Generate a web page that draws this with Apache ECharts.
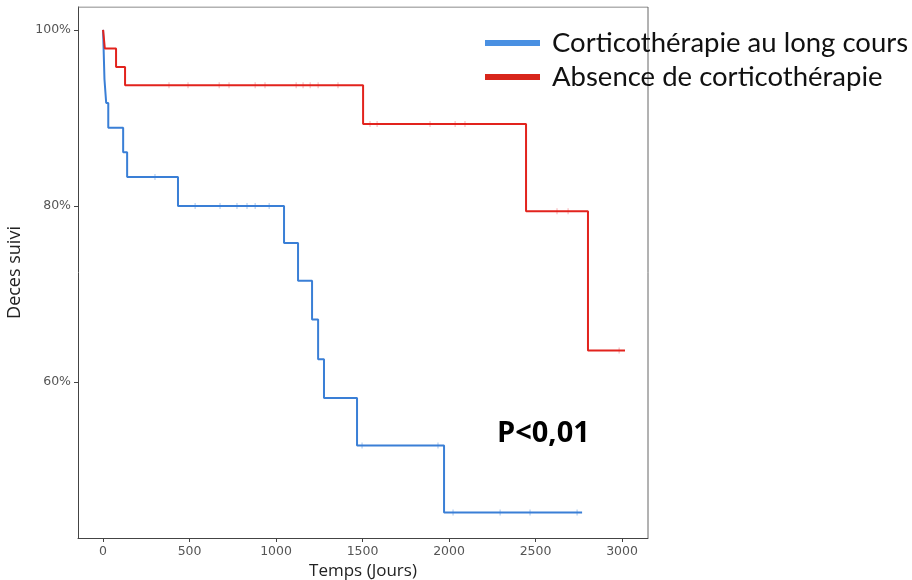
<!DOCTYPE html>
<html>
<head>
<meta charset="utf-8">
<script src="https://cdn.jsdelivr.net/npm/echarts@6/dist/echarts.min.js"></script>
<style>
  html, body { margin: 0; padding: 0; background: #fff; }
  #chart { width: 912px; height: 580px; }
</style>
</head>
<body>
<div id="chart"></div>
<script>
// courbes de Kaplan-Meier : [temps (jours), survie %]
const seriesNames = ['Corticothérapie au long cours', 'Absence de corticothérapie']
const corticoCurve = [
  [0, 100], [8, 94.4], [18, 91.7], [30, 88.9], [116, 86.1], [139, 83.3],
  [433, 80.0], [1046, 75.8], [1127, 71.5], [1208, 67.1], [1243, 62.6],
  [1277, 58.2], [1468, 52.8], [1971, 45.2], [2769, 45.2]
]
const absenceCurve = [
  [0, 100], [10, 97.9], [75, 95.8], [127, 93.7], [1503, 89.3],
  [2445, 79.4], [2803, 63.6], [3017, 63.6]
]
// temps des censures (petites marques verticales)
const corticoCensors = [300, 532, 676, 774, 832, 879, 960, 1497, 1936, 2023, 2295, 2468, 2740]
const absenceCensors = [381, 491, 671, 728, 879, 936, 1116, 1156, 1197, 1243, 1358,
  1543, 1584, 1890, 2035, 2092, 2624, 2688, 2983]
const xTicks = [0, 500, 1000, 1500, 2000, 2500, 3000]
const yTicks = [60, 80, 100]

const survivalAt = (curve, t) => {
  let v = curve[0][1]
  curve.forEach(p => { if (p[0] <= t) v = p[1] })
  return v
}

const blue = '#3a7fd6'
const red = '#e2231d'
const tickFont = { fontFamily: 'DejaVu Sans', fontSize: 12.5, color: '#555' }

const chart = echarts.init(document.getElementById('chart'))
chart.setOption({
  animation: false,
  grid: { left: 78, right: 264, top: 7, bottom: 42, outerBoundsMode: 'none' },
  legend: {
    orient: 'vertical',
    left: 480,
    top: 24,
    itemWidth: 55,
    itemHeight: 6,
    itemGap: 6,
    icon: 'rect',
    data: [
      { name: seriesNames[0], itemStyle: { color: '#4a90e2' } },
      { name: seriesNames[1], itemStyle: { color: '#d8261b' } }
    ],
    textStyle: { fontFamily: 'Lato', fontSize: 27.5, color: '#111', padding: [0, 0, 0, 7] }
  },
  xAxis: {
    type: 'value',
    min: -145,
    max: 3150,
    name: 'Temps (Jours)',
    nameLocation: 'middle',
    nameGap: 23,
    nameTextStyle: { fontFamily: 'Open Sans', fontSize: 17, color: '#222' },
    axisLine: { onZero: false, lineStyle: { color: '#444', width: 1 } },
    axisTick: { customValues: xTicks, length: 4, lineStyle: { color: '#444' } },
    axisLabel: { customValues: xTicks, margin: 7, formatter: v => String(v), ...tickFont },
    splitLine: { show: false }
  },
  yAxis: {
    type: 'value',
    min: 42.3,
    max: 102.6,
    name: 'Deces suivi',
    nameLocation: 'middle',
    nameGap: 48,
    nameTextStyle: { fontFamily: 'Open Sans', fontSize: 18, color: '#222' },
    axisLine: { show: true, onZero: false, lineStyle: { color: '#444', width: 1 } },
    axisTick: { show: true, customValues: yTicks, length: 4, lineStyle: { color: '#444' } },
    axisLabel: { customValues: yTicks, margin: 7, formatter: v => v + '%', ...tickFont },
    splitLine: { show: false }
  },
  series: [
    {
      name: seriesNames[0],
      type: 'line',
      step: 'end',
      data: corticoCurve,
      showSymbol: false,
      lineStyle: { color: blue, width: 2 },
      itemStyle: { color: '#4a90e2' }
    },
    {
      name: seriesNames[1],
      type: 'line',
      step: 'end',
      data: absenceCurve,
      showSymbol: false,
      lineStyle: { color: red, width: 2 },
      itemStyle: { color: '#d8261b' }
    },
    {
      type: 'scatter',
      data: corticoCensors.map(t => [t, survivalAt(corticoCurve, t)]),
      symbol: 'rect',
      symbolSize: [1, 6],
      itemStyle: { color: 'rgba(90,150,225,0.7)' }
    },
    {
      type: 'scatter',
      data: absenceCensors.map(t => [t, survivalAt(absenceCurve, t)]),
      symbol: 'rect',
      symbolSize: [1, 6],
      itemStyle: { color: 'rgba(240,110,120,0.7)' }
    },
    {
      // bordure haute et droite du cadre
      type: 'line',
      data: [[-145, 102.6], [3150, 102.6], [3150, 42.3]],
      showSymbol: false,
      silent: true,
      lineStyle: { color: '#666', width: 1 }
    }
  ],
  graphic: [{
    type: 'text',
    left: 497,
    top: 419,
    style: { text: 'P<0,01', font: 'bold 29px "Open Sans"', fill: '#000' }
  }]
})
</script>
</body>
</html>
